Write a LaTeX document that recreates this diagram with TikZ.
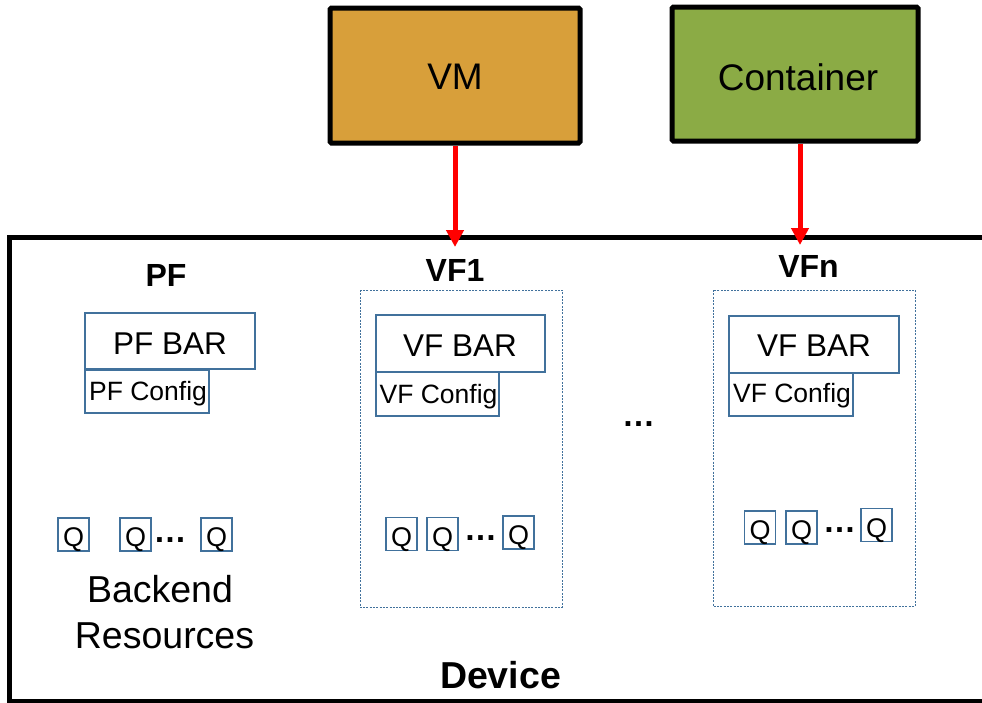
\documentclass[tikz,border=0pt]{standalone}
\usepackage{fontspec}
\setmainfont{Liberation Sans}
\usetikzlibrary{arrows.meta}
\definecolor{vmfill}{HTML}{D89F3A}
\definecolor{ctfill}{HTML}{8BAB45}
\definecolor{edgeblue}{HTML}{41719C}
\newcommand{\fsz}[1]{\fontsize{#1}{#1}\selectfont}
\begin{document}
\begin{tikzpicture}[x=1pt,y=-1pt,
  host/.style={draw=black,line width=5pt,rounded corners=1.5pt,inner sep=0pt,
               font=\fsz{37}},
  barbox/.style={draw=edgeblue,line width=1.3pt,inner sep=0pt,
                 minimum height=57pt},
  cfgbox/.style={draw=edgeblue,line width=1.3pt,inner sep=0pt,
                 minimum width=124pt,minimum height=43pt},
  qbox/.style={draw=edgeblue,line width=1.3pt,inner sep=0pt,
               minimum width=31pt,minimum height=33pt,font=\fsz{27},
               text height=24pt,text depth=0pt},
  vfframe/.style={draw=edgeblue,line width=1pt,dash pattern=on 2pt off 1.3pt},
  txt/.style={inner sep=0pt,anchor=center},
  fnlabel/.style={txt,font=\bfseries\fsz{32}},
  more/.style={txt,font=\bfseries\fsz{33}},
  link/.style={draw=red,line width=5pt,-{Triangle[width=17pt,length=17pt]}}]
\clip (0,0) rectangle (982,702);
\fill[white] (0,0) rectangle (982,702);

% device outline (right and bottom edges run off the page)
\draw[line width=5pt] (9.5,237) rectangle (995,701.5);

% hosts
\node[host,fill=vmfill,minimum width=250pt,minimum height=135pt] (vm) at (455,75.5) {};
\node[txt,font=\fsz{37}] (vmt) at (455,77) {VM};
\node[host,fill=ctfill,minimum width=246pt,minimum height=134pt] (ct) at (795,74) {};
\node[txt,font=\fsz{37}] (ctt) at (798,77) {Container};

% links into the device
\coordinate (vfonein) at (455,247);
\coordinate (vfnin) at (800,245);
\draw[link] (vm.south -| vfonein) -- (vfonein);
\draw[link] (ct.south -| vfnin) -- (vfnin);

% PF
\node[fnlabel] (pf) at (166,275) {PF};
\node[barbox,minimum width=170pt,minimum height=56pt] (pfbar) at (170,341) {};
\node[txt,font=\fsz{31.5}] (pfbart) at (170,343.5) {PF BAR};
\node[cfgbox] (pfcfg) at (147,391.5) {};
\node[txt,font=\fsz{26.5}] (pfcfgt) at (148,394) {PF Config};
\node[qbox] (pfq1) at (73.5,534.5) {Q};
\node[qbox] (pfq2) at (135.5,534.5) {Q};
\node[more] (pfdots) at (170,540.5) {…};
\node[qbox] (pfq3) at (216.5,534.5) {Q};
\node[txt,font=\fsz{37.5}] (be1) at (160,589.5) {Backend};
\node[txt,font=\fsz{37.5}] (be2) at (164.5,636) {Resources};

% VF1
\node[fnlabel] (vf1) at (455,270) {VF1};
\draw[vfframe] (360,290) rectangle (562,607);
\node[barbox,minimum width=169pt] (vf1bar) at (460.5,343.5) {};
\node[txt,font=\fsz{31.5}] (vf1bart) at (460,345.5) {VF BAR};
\node[cfgbox,minimum width=123pt,minimum height=44pt] (vf1cfg) at (437.5,394) {};
\node[txt,font=\fsz{26.5}] (vf1cfgt) at (438.5,396.5) {VF Config};
\node[qbox] (vf1q1) at (401.5,534) {Q};
\node[qbox] (vf1q2) at (442.5,534) {Q};
\node[more] (vf1dots) at (480.5,538.5) {…};
\node[qbox] (vf1q3) at (518.5,532.5) {Q};

% gap between VFs
\node[more] (middots) at (638.5,424) {…};

% VFn
\node[fnlabel] (vfn) at (808.5,266.5) {VFn};
\draw[vfframe] (713,290) rectangle (915,606);
\node[barbox,minimum width=170pt] (vfnbar) at (814,344.5) {};
\node[txt,font=\fsz{31.5}] (vfnbart) at (814,345.5) {VF BAR};
\node[cfgbox,minimum height=43pt] (vfncfg) at (791,394.5) {};
\node[txt,font=\fsz{26.5}] (vfncfgt) at (792,395.5) {VF Config};
\node[qbox] (vfnq1) at (760,527.5) {Q};
\node[qbox] (vfnq2) at (801.5,527.5) {Q};
\node[more] (vfndots) at (839.5,530) {…};
\node[qbox] (vfnq3) at (876.5,525) {Q};

% device label
\node[txt,font=\bfseries\fsz{37.5}] (dev) at (500.5,675.5) {Device};
\end{tikzpicture}
\end{document}
